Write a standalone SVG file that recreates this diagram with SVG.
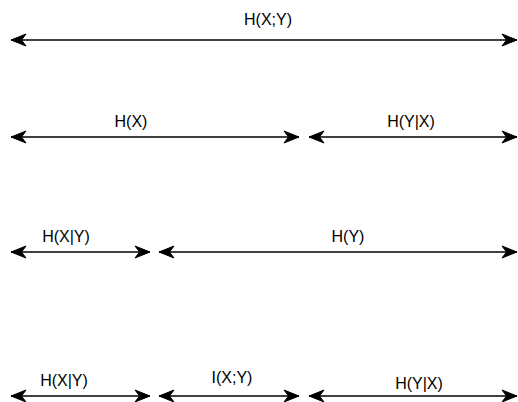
<svg xmlns="http://www.w3.org/2000/svg" width="518" height="402" viewBox="0 0 518 402">
<defs>
<marker id="ah" viewBox="-16 -7 17 14" refX="0" refY="0" markerWidth="17" markerHeight="14" markerUnits="userSpaceOnUse" orient="auto-start-reverse">
<path d="M0,0 L-15,-6 L-10.5,0 L-15,6 Z" fill="#000" stroke="#000" stroke-width="1"/>
</marker>
<style>
.c{stroke:#000;stroke-width:1.5;fill:none;marker-start:url(#ah);marker-end:url(#ah)}
text{font-family:"Liberation Sans",Arial,sans-serif;font-size:16px;fill:#000;text-anchor:middle}
</style>
</defs>
<rect width="518" height="402" fill="#fff"/>
<g id="connectors">
<line class="c" x1="11" y1="40" x2="517" y2="40"/>
<line class="c" x1="11" y1="137" x2="299" y2="137"/>
<line class="c" x1="309" y1="137" x2="517" y2="137"/>
<line class="c" x1="11" y1="252" x2="150" y2="252"/>
<line class="c" x1="159" y1="252" x2="517" y2="252"/>
<line class="c" x1="11" y1="396" x2="150" y2="396"/>
<line class="c" x1="159" y1="396" x2="299" y2="396"/>
<line class="c" x1="309" y1="396" x2="517" y2="396"/>
</g>
<g id="n1"><text x="268" y="25">H(X;Y)</text></g>
<g id="n2"><text x="131" y="127">H(X)</text></g>
<g id="n3"><text x="411" y="127">H(Y|X)</text></g>
<g id="n4"><text x="66" y="242">H(X|Y)</text></g>
<g id="n5"><text x="348" y="242">H(Y)</text></g>
<g id="n6"><text x="64" y="386">H(X|Y)</text></g>
<g id="n7"><text x="232" y="383">I(X;Y)</text></g>
<g id="n8"><text x="419" y="389">H(Y|X)</text></g>
</svg>
